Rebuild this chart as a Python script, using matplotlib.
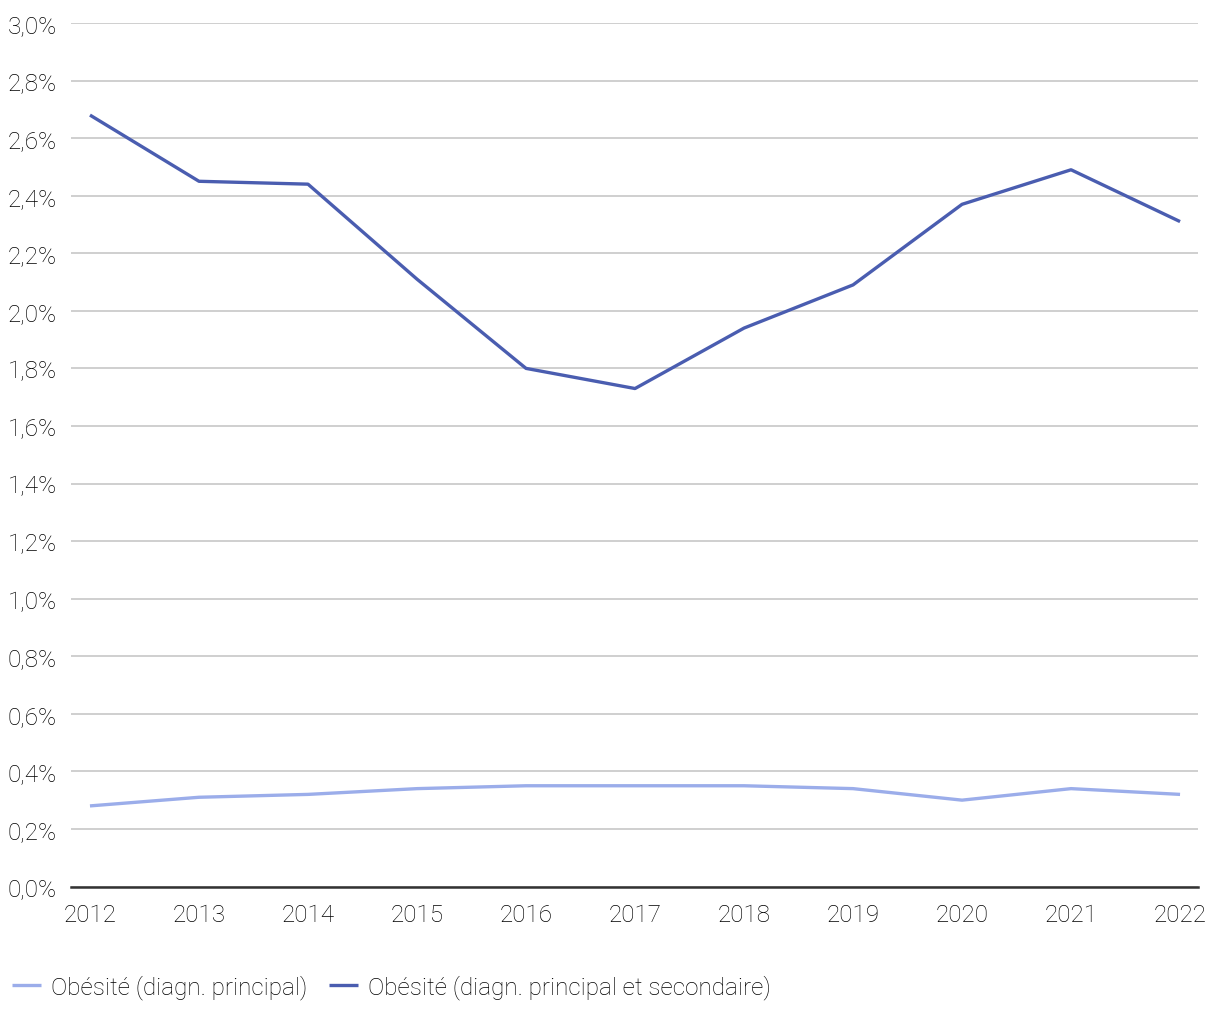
import matplotlib.pyplot as plt
from matplotlib.ticker import FuncFormatter

years = [2012, 2013, 2014, 2015, 2016, 2017, 2018, 2019, 2020, 2021, 2022]
principal = [0.28, 0.31, 0.32, 0.34, 0.35, 0.35, 0.35, 0.34, 0.30, 0.34, 0.32]
principal_secondaire = [2.68, 2.45, 2.44, 2.11, 1.80, 1.73, 1.94, 2.09, 2.37, 2.49, 2.31]
labels = ["Obésité (diagn. principal)", "Obésité (diagn. principal et secondaire)"]

plt.rcParams['font.family'] = ['Roboto', 'DejaVu Sans']
plt.rcParams['font.weight'] = 'light'

fig = plt.figure(figsize=(12.2, 10.2), dpi=100)
ax = fig.add_axes([0.0582, 0.1299, 0.9238, 0.8466])

ax.plot(years, principal, color='#9badea', lw=2.4, label=labels[0], solid_capstyle='butt')
ax.plot(years, principal_secondaire, color='#4a5db0', lw=2.4, label=labels[1], solid_capstyle='butt')

ax.set_ylim(0, 3.0)
ax.set_xlim(2011.826, 2022.165)
ax.set_yticks([i * 0.2 for i in range(16)])
ax.set_xticks(years)
ax.yaxis.set_major_formatter(FuncFormatter(lambda v, p: f"{v:.1f}%".replace('.', ',')))

ax.grid(axis='y', color='#cccccc', lw=1.3)
ax.set_axisbelow(True)
for s in ['top', 'right', 'left']:
    ax.spines[s].set_visible(False)
ax.spines['bottom'].set_color('#333333')
ax.spines['bottom'].set_linewidth(1.8)
ax.tick_params(axis='both', length=0, labelsize=17.5, colors='#000000')
ax.tick_params(axis='y', pad=10)
ax.tick_params(axis='x', pad=12)

leg = fig.legend(loc='lower left', bbox_to_anchor=(-0.008, -0.002), ncol=2, frameon=False,
                 fontsize=17.5, handlelength=1.2, handletextpad=0.4, columnspacing=0.9)
for t in leg.get_texts():
    t.set_color('#000000')

fig.savefig('out.png', dpi=100)
